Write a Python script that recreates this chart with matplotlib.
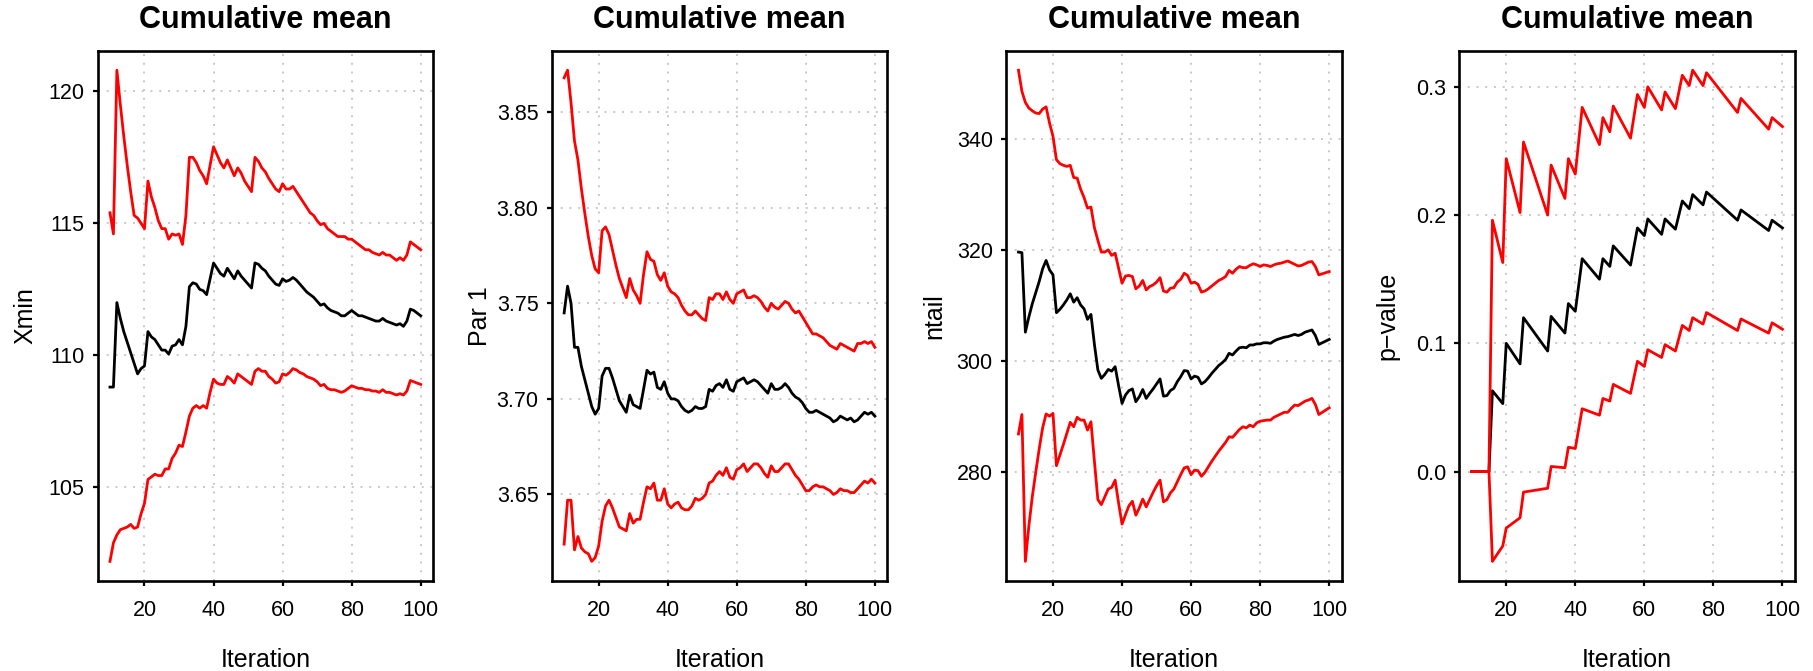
import numpy as np
import matplotlib.pyplot as plt
from matplotlib.ticker import FormatStrFormatter

# Helvetica-like font for the R look
plt.rcParams['font.family'] = ['Liberation Sans', 'DejaVu Sans']

# Iterations shown on the x axis
iteration = np.arange(10, 101)

# Panel 1: Xmin (lower band, cumulative mean, upper band)
xmin_hi = [115.4, 114.6, 120.8, 119.5, 118.3, 117.2, 116.2, 115.3, 115.2, 115.0,
           114.8, 116.6, 116.0, 115.6, 115.1, 114.8, 114.8, 114.4, 114.6, 114.55,
           114.6, 114.2, 115.3, 117.5, 117.5, 117.3, 117.0, 116.8, 116.5, 117.2,
           117.9, 117.6, 117.3, 117.1, 117.4, 117.1, 116.8, 117.1, 116.9, 116.6,
           116.4, 116.2, 117.5, 117.35, 117.1, 116.95, 116.7, 116.5, 116.3, 116.2,
           116.5, 116.3, 116.3, 116.4, 116.2, 116.0, 115.8, 115.6, 115.4, 115.3,
           115.1, 114.95, 115.0, 114.8, 114.7, 114.6, 114.5, 114.5, 114.5, 114.4,
           114.4, 114.3, 114.2, 114.1, 114.0, 114.0, 113.9, 113.85, 113.8, 113.9,
           113.8, 113.8, 113.7, 113.6, 113.7, 113.6, 113.8, 114.3, 114.2, 114.1, 114.0]
xmin_mid = [108.8, 108.8, 112.0, 111.4, 110.9, 110.5, 110.1, 109.7, 109.3, 109.5,
            109.6, 110.9, 110.7, 110.6, 110.4, 110.2, 110.2, 110.05, 110.35, 110.4,
            110.6, 110.4, 111.1, 112.6, 112.75, 112.7, 112.5, 112.45, 112.3, 112.9,
            113.5, 113.3, 113.1, 113.0, 113.3, 113.1, 112.9, 113.2, 113.0, 112.85,
            112.7, 112.55, 113.5, 113.45, 113.3, 113.2, 113.0, 112.85, 112.7, 112.65,
            112.9, 112.8, 112.85, 112.95, 112.85, 112.7, 112.55, 112.4, 112.3, 112.2,
            112.05, 111.9, 111.95, 111.8, 111.7, 111.65, 111.6, 111.5, 111.5, 111.6,
            111.7, 111.6, 111.5, 111.5, 111.45, 111.4, 111.35, 111.3, 111.3, 111.4,
            111.3, 111.25, 111.2, 111.15, 111.2, 111.1, 111.3, 111.75, 111.7, 111.6, 111.5]
xmin_lo = [102.2, 102.9, 103.2, 103.4, 103.45, 103.5, 103.6, 103.45, 103.5, 104.0,
           104.4, 105.3, 105.4, 105.5, 105.45, 105.45, 105.7, 105.7, 106.1, 106.3,
           106.6, 106.55, 107.1, 107.7, 108.0, 108.1, 108.0, 108.1, 108.0, 108.6,
           109.1, 108.95, 108.9, 108.9, 109.2, 109.1, 108.95, 109.3, 109.2, 109.1,
           109.0, 108.9, 109.4, 109.5, 109.4, 109.4, 109.2, 109.1, 108.95, 109.0,
           109.3, 109.25, 109.35, 109.5, 109.45, 109.35, 109.3, 109.2, 109.15, 109.1,
           109.0, 108.85, 108.9, 108.75, 108.7, 108.7, 108.65, 108.6, 108.65, 108.75,
           108.85, 108.8, 108.75, 108.75, 108.7, 108.7, 108.65, 108.65, 108.6, 108.7,
           108.6, 108.6, 108.55, 108.5, 108.55, 108.5, 108.65, 109.05, 109.0, 108.95, 108.9]

# Panel 2: Par 1
par_hi = [3.868, 3.872, 3.855, 3.835, 3.825, 3.810, 3.797, 3.785, 3.775, 3.768,
          3.766, 3.788, 3.790, 3.786, 3.778, 3.770, 3.763, 3.758, 3.753, 3.763,
          3.757, 3.754, 3.750, 3.765, 3.777, 3.773, 3.772, 3.765, 3.762, 3.766,
          3.759, 3.756, 3.755, 3.753, 3.749, 3.746, 3.744, 3.744, 3.746, 3.744,
          3.742, 3.741, 3.753, 3.752, 3.755, 3.755, 3.752, 3.756, 3.752, 3.750,
          3.755, 3.756, 3.757, 3.753, 3.753, 3.754, 3.753, 3.751, 3.748, 3.746,
          3.750, 3.748, 3.747, 3.749, 3.751, 3.750, 3.747, 3.745, 3.746, 3.743,
          3.740, 3.737, 3.734, 3.734, 3.733, 3.732, 3.730, 3.728, 3.727, 3.726,
          3.729, 3.728, 3.727, 3.726, 3.725, 3.729, 3.729, 3.730, 3.729, 3.730, 3.727]
par_mid = [3.745, 3.759, 3.750, 3.727, 3.727, 3.717, 3.710, 3.703, 3.696, 3.692,
           3.695, 3.712, 3.716, 3.716, 3.711, 3.705, 3.699, 3.696, 3.693, 3.702,
           3.697, 3.696, 3.695, 3.705, 3.715, 3.713, 3.714, 3.706, 3.705, 3.709,
           3.703, 3.700, 3.700, 3.699, 3.696, 3.694, 3.693, 3.694, 3.696, 3.695,
           3.695, 3.696, 3.705, 3.704, 3.707, 3.708, 3.706, 3.710, 3.705, 3.704,
           3.709, 3.710, 3.711, 3.708, 3.709, 3.710, 3.709, 3.707, 3.705, 3.703,
           3.708, 3.705, 3.705, 3.706, 3.708, 3.706, 3.703, 3.701, 3.700, 3.698,
           3.695, 3.693, 3.693, 3.694, 3.693, 3.692, 3.691, 3.690, 3.688, 3.689,
           3.691, 3.690, 3.689, 3.690, 3.688, 3.689, 3.691, 3.693, 3.692, 3.693, 3.691]
par_lo = [3.624, 3.647, 3.647, 3.621, 3.628, 3.622, 3.620, 3.619, 3.615, 3.617,
          3.623, 3.636, 3.644, 3.647, 3.643, 3.638, 3.633, 3.632, 3.631, 3.640,
          3.635, 3.637, 3.637, 3.646, 3.654, 3.653, 3.656, 3.647, 3.647, 3.653,
          3.645, 3.643, 3.645, 3.646, 3.643, 3.642, 3.642, 3.644, 3.648, 3.647,
          3.648, 3.650, 3.656, 3.657, 3.660, 3.662, 3.660, 3.664, 3.659, 3.658,
          3.663, 3.664, 3.666, 3.662, 3.664, 3.666, 3.666, 3.664, 3.661, 3.659,
          3.665, 3.662, 3.662, 3.664, 3.666, 3.666, 3.663, 3.660, 3.658, 3.655,
          3.652, 3.652, 3.654, 3.655, 3.654, 3.654, 3.653, 3.652, 3.650, 3.651,
          3.653, 3.652, 3.652, 3.651, 3.651, 3.653, 3.655, 3.657, 3.656, 3.658, 3.656]

# Panel 3: ntail
ntail_hi = [352.3, 348.5, 346.5, 345.5, 345.0, 344.6, 344.5, 345.3, 345.7, 342.8,
            340.4, 336.2, 335.5, 335.2, 335.0, 335.2, 333.0, 332.9, 330.9, 329.4,
            327.5, 327.7, 324.0, 321.7, 319.6, 319.6, 320.0, 319.0, 319.4, 316.7,
            314.0, 315.3, 315.4, 315.2, 313.0, 313.5, 314.5, 312.8, 313.4, 313.7,
            314.2, 315.0, 312.6, 312.4, 313.1, 313.2, 314.2, 314.7, 315.8, 315.4,
            314.0, 314.2, 313.8, 312.4, 312.6, 313.0, 313.5, 314.0, 314.5, 314.8,
            315.2, 316.3, 315.8, 316.5, 317.0, 316.8, 316.8, 317.2, 317.5, 317.3,
            317.0, 317.3, 317.2, 317.0, 317.3, 317.5, 317.6, 317.8, 318.0, 317.7,
            317.4, 317.1, 317.2, 317.5, 317.8, 317.9, 317.0, 315.5, 315.7, 315.9, 316.1]
ntail_mid = [319.6, 319.5, 305.2, 307.9, 310.3, 312.3, 314.3, 316.6, 318.1, 316.4,
             315.5, 308.7, 309.3, 310.1, 311.0, 312.1, 310.6, 311.4, 310.1, 309.4,
             307.5, 308.4, 303.0, 298.4, 296.9, 297.6, 298.5, 298.2, 299.0, 295.6,
             292.4, 293.9, 294.7, 295.0, 292.7, 293.6, 294.9, 293.3, 294.2, 295.0,
             295.9, 296.8, 293.7, 293.8, 294.7, 295.1, 296.3, 297.2, 298.3, 298.2,
             296.8, 297.3, 297.1, 295.9, 296.3, 297.0, 297.8, 298.5, 299.2, 299.7,
             300.3, 301.4, 301.1, 301.8, 302.4, 302.5, 302.4, 302.9, 302.9, 303.1,
             303.1, 303.3, 303.3, 303.2, 303.6, 303.9, 304.1, 304.3, 304.4, 304.6,
             304.8, 304.6, 304.8, 305.2, 305.4, 305.6, 304.6, 303.0, 303.3, 303.6, 303.9]
ntail_lo = [286.9, 290.4, 264.0, 270.3, 275.6, 280.0, 284.2, 288.0, 290.5, 290.1,
            290.6, 281.2, 283.1, 285.0, 287.0, 289.0, 288.2, 289.9, 289.4, 289.4,
            287.6, 289.1, 282.0, 275.1, 274.2, 275.6, 277.0, 277.3, 278.6, 274.5,
            270.7, 272.4, 274.0, 274.8, 272.3, 273.6, 275.2, 273.8, 275.1, 276.4,
            277.6, 278.6, 274.7, 275.1, 276.3, 277.0, 278.3, 279.6, 280.8, 281.0,
            279.6, 280.4, 280.3, 279.3, 280.0, 281.0, 282.0, 282.9, 283.8, 284.6,
            285.4, 286.4, 286.3, 287.0, 287.7, 288.2, 288.0, 288.5, 288.2, 288.9,
            289.2, 289.3, 289.4, 289.4, 289.9, 290.2, 290.5, 290.8, 290.8, 291.5,
            292.1, 292.0, 292.4, 292.8, 293.0, 293.3, 292.2, 290.4, 290.8, 291.2, 291.6]

# Panel 4: p-value (only the corner points of the saw-tooth lines)
pv_iter = [10, 15, 16, 19, 20, 24, 25, 32, 33, 37, 38, 40, 42, 47, 48, 50, 51,
           56, 58, 60, 61, 65, 66, 69, 71, 73, 74, 77, 78, 87, 88, 96, 97, 100]
pv_hi = [0.0, 0.0, 0.196, 0.163, 0.244, 0.202, 0.257, 0.200, 0.239, 0.213, 0.244,
         0.232, 0.284, 0.255, 0.276, 0.265, 0.285, 0.260, 0.294, 0.284, 0.300,
         0.282, 0.296, 0.283, 0.309, 0.301, 0.313, 0.301, 0.311, 0.280, 0.291,
         0.267, 0.276, 0.269]
pv_mid = [0.0, 0.0, 0.063, 0.053, 0.100, 0.084, 0.120, 0.094, 0.121, 0.108, 0.131,
          0.125, 0.166, 0.150, 0.166, 0.160, 0.176, 0.161, 0.190, 0.184, 0.197,
          0.185, 0.197, 0.189, 0.211, 0.205, 0.216, 0.208, 0.218, 0.196, 0.204,
          0.188, 0.196, 0.190]
pv_lo = [0.0, 0.0, -0.070, -0.058, -0.044, -0.036, -0.016, -0.013, 0.004, 0.003,
         0.019, 0.018, 0.049, 0.044, 0.057, 0.055, 0.068, 0.061, 0.086, 0.082,
         0.095, 0.089, 0.099, 0.094, 0.114, 0.110, 0.120, 0.115, 0.124, 0.110,
         0.119, 0.108, 0.116, 0.111]

x_ticks = [20, 40, 60, 80, 100]

panels = [
    (iteration, xmin_lo, xmin_mid, xmin_hi, "Xmin", [105, 110, 115, 120], '%d'),
    (iteration, par_lo, par_mid, par_hi, "Par 1", [3.65, 3.70, 3.75, 3.80, 3.85], '%.2f'),
    (iteration, ntail_lo, ntail_mid, ntail_hi, "ntail", [280, 300, 320, 340], '%d'),
    (pv_iter, pv_lo, pv_mid, pv_hi, "p\u2212value", [0.0, 0.1, 0.2, 0.3], '%.1f'),
]

fig = plt.figure(figsize=(18.13, 6.71), dpi=100)

lefts = [0.0538, 0.3043, 0.5549, 0.8049]
bottom, width, height = 0.1341, 0.1851, 0.7906

for left, (x, lo, mid, hi, ylab, yt, fmt) in zip(lefts, panels):
    ax = fig.add_axes([left, bottom, width, height])

    ax.plot(x, mid, color='black', lw=2.0)
    ax.plot(x, lo, color='red', lw=2.0)
    ax.plot(x, hi, color='red', lw=2.0)

    # R style 4% padding around the data
    ax.margins(x=0.04, y=0.04)

    ax.set_xticks(x_ticks)
    ax.set_yticks(yt)
    ax.yaxis.set_major_formatter(FormatStrFormatter(fmt))

    # dotted light gray grid at the ticks
    ax.grid(True, color='#c8c8c8', linestyle=(0, (1, 3.5)), lw=1.4)
    ax.set_axisbelow(True)

    for s in ax.spines.values():
        s.set_linewidth(1.9)
    ax.tick_params(axis='both', direction='out', length=3.5, width=1.6,
                   labelsize=15.5)
    ax.tick_params(axis='x', pad=10.5)
    ax.tick_params(axis='y', pad=6)

    ax.set_title("Cumulative mean", fontsize=22, fontweight='bold',
                 y=1.027, va='baseline')
    ax.set_xlabel("Iteration", fontsize=18, va='baseline')
    ax.xaxis.set_label_coords(0.5, -0.162)
    ax.set_ylabel(ylab, fontsize=18, va='baseline')
    ax.yaxis.set_label_coords(-0.193, 0.5)

plt.savefig("out.png", dpi=100)
